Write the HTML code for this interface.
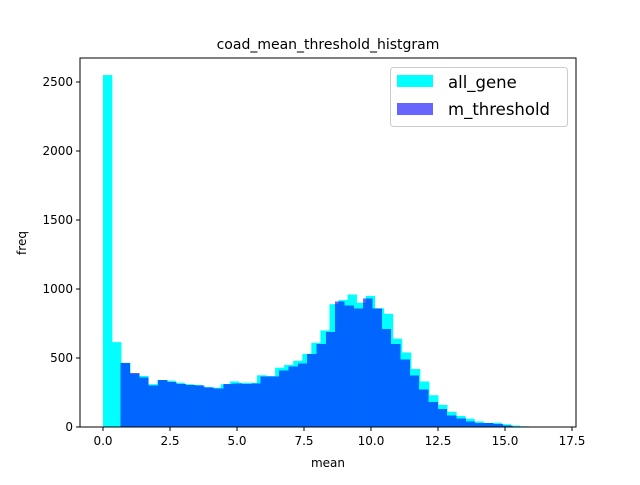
<!DOCTYPE html>
<html><head><meta charset="utf-8"><style>
body{margin:0;background:#fff}
svg{font-family:"DejaVu Sans","Liberation Sans",sans-serif}
</style></head><body>
<svg id="chart" width="640" height="480" xmlns="http://www.w3.org/2000/svg">
<rect width="640" height="480" fill="#fff"/>
<g id="bars"></g>
<g id="axes"></g>
</svg>
<script>
const allStart = 0.0, allWidth = 0.338;
const allGene = [2550,615,465,385,370,310,340,335,320,310,305,290,285,310,330,320,320,375,370,430,450,480,530,610,700,890,920,960,900,950,860,820,640,540,420,330,230,160,110,80,60,40,30,30,20,10,5,3,2,1];
const mStart = 0.66, mWidth = 0.348;
const mThreshold = [465,390,360,300,340,325,310,305,300,285,280,310,315,310,315,365,365,410,440,460,530,600,690,910,880,860,930,860,710,600,490,375,270,180,130,85,60,40,30,30,20,10,3];
const xTicks = [0,2.5,5,7.5,10,12.5,15,17.5];
const xTickLabels = ["0.0","2.5","5.0","7.5","10.0","12.5","15.0","17.5"];
const yTicks = [0,500,1000,1500,2000,2500];
const yTickLabels = ["0","500","1000","1500","2000","2500"];

const L=80,R=576,T=58,B=427;
const sx=v=>103+v*26.8;
const sy=v=>B-v*0.138;
const NS="http://www.w3.org/2000/svg";
const bars=document.getElementById('bars'), axes=document.getElementById('axes');
function mk(tag,attrs,parent){const e=document.createElementNS(NS,tag);for(const k in attrs)e.setAttribute(k,attrs[k]);parent.appendChild(e);return e;}

allGene.forEach((v,i)=>{
  const x0=sx(allStart+i*allWidth), x1=sx(allStart+(i+1)*allWidth);
  const r=mk('rect',{x:x0,y:sy(v),width:x1-x0+0.3,height:B-sy(v),fill:'#00ffff'},bars);
  
  
});
mThreshold.forEach((v,i)=>{
  const x0=sx(mStart+i*mWidth), x1=sx(mStart+(i+1)*mWidth);
  const r=mk('rect',{x:x0,y:sy(v),width:x1-x0,height:B-sy(v),fill:'#0000ff','fill-opacity':0.6,'shape-rendering':'crispEdges'},bars);
  
  
});

mk('rect',{x:L,y:T,width:R-L,height:B-T,fill:'none',stroke:'#000','stroke-width':1},axes);
xTicks.forEach((t,i)=>{
  const x=sx(t);
  mk('line',{x1:x,x2:x,y1:B,y2:B+4,stroke:'#000'},axes);
  const tx=mk('text',{x:x,y:B+18,'text-anchor':'middle','font-size':12},axes);
  tx.textContent=xTickLabels[i];
  
  
});
yTicks.forEach((t,i)=>{
  const y=sy(t);
  mk('line',{x1:L-4,x2:L,y1:y,y2:y,stroke:'#000'},axes);
  const tx=mk('text',{x:L-7,y:y+4,'text-anchor':'end','font-size':12},axes);
  tx.textContent=yTickLabels[i];
  
  
});
</script>
<svg width="640" height="480" style="position:absolute;left:0;top:0" xmlns="http://www.w3.org/2000/svg" font-family="DejaVu Sans, Liberation Sans, sans-serif">
<text x="328" y="49" text-anchor="middle" font-size="14">coad_mean_threshold_histgram</text>
<text x="328" y="467" text-anchor="middle" font-size="12">mean</text>
<text x="26" y="243" text-anchor="middle" font-size="12" transform="rotate(-90 26 243)">freq</text>
<g>
<rect x="390.5" y="67.5" width="177" height="59" rx="3" fill="#fff" fill-opacity="0.8" stroke="#ccc"/>
<rect x="397" y="75" width="36" height="12" fill="#00ffff"/>
<text x="448" y="88" font-size="16.5">all_gene</text>
<rect x="397" y="103" width="36" height="12" fill="#6666ff"/>
<text x="448" y="115" font-size="16.5">m_threshold</text>
</g>
</svg>
</body></html>
